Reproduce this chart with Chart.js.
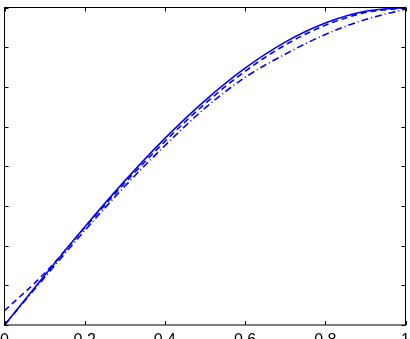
<!DOCTYPE html>
<html>
<head>
<meta charset="utf-8">
<script src="https://cdn.jsdelivr.net/npm/chart.js@4/dist/chart.umd.min.js"></script>
<style>
  html, body { margin: 0; padding: 0; background: #fff; }
</style>
</head>
<body>
<canvas id="curveChart" width="410" height="339"></canvas>
<script>
// values
const xValues = [0, 0.1, 0.2, 0.3, 0.4, 0.5, 0.6, 0.7, 0.8, 0.9, 1];
const solidValues = [0, 0.156, 0.309, 0.454, 0.588, 0.707, 0.809, 0.891, 0.951, 0.988, 1.0];
const dashedValues = [0.045, 0.163, 0.306, 0.447, 0.578, 0.697, 0.799, 0.882, 0.944, 0.984, 0.999];
const dashDotValues = [0, 0.15, 0.297, 0.437, 0.565, 0.683, 0.78, 0.853, 0.915, 0.962, 0.995];
const xTicks = [0, 0.2, 0.4, 0.6, 0.8, 1];
const xTickLabels = ['0', '0.2', '0.4', '0.6', '0.8', '1'];
const yTicks = [0, 0.125, 0.25, 0.375, 0.5, 0.625, 0.75, 0.875, 1];

function toPoints(ys) {
    return xValues.map(function(x, i) { return { x: x, y: ys[i] }; });
}

// box, inward ticks and x labels like the original figure
const boxPlugin = {
    id: 'boxPlugin',
    afterDraw: function(chart) {
        const ctx = chart.ctx;
        const a = chart.chartArea;
        const xs = chart.scales.x;
        const ys = chart.scales.y;
        ctx.save();
        ctx.strokeStyle = '#000';
        ctx.lineWidth = 1;
        ctx.strokeRect(a.left, a.top, a.right - a.left, a.bottom - a.top);
        ctx.beginPath();
        xTicks.forEach(function(v) {
            const px = Math.round(xs.getPixelForValue(v)) + 0.5;
            ctx.moveTo(px, a.bottom); ctx.lineTo(px, a.bottom - 4);
            ctx.moveTo(px, a.top); ctx.lineTo(px, a.top + 4);
        });
        yTicks.forEach(function(v) {
            const py = Math.round(ys.getPixelForValue(v)) + 0.5;
            ctx.moveTo(a.left, py); ctx.lineTo(a.left + 4, py);
            ctx.moveTo(a.right, py); ctx.lineTo(a.right - 4, py);
        });
        ctx.stroke();
        ctx.fillStyle = '#000';
        ctx.font = '16px "Liberation Sans", Arial, sans-serif';
        ctx.textAlign = 'center';
        ctx.textBaseline = 'alphabetic';
        xTicks.forEach(function(v, i) {
            ctx.fillText(xTickLabels[i], xs.getPixelForValue(v), a.bottom + 20);
        });
        ctx.restore();
    }
};

const ctx = document.getElementById('curveChart').getContext('2d');

new Chart(ctx, {
    type: 'line',
    data: {
        datasets: [{
            data: toPoints(solidValues),
            borderColor: '#0000ff',
            borderWidth: 1.6
        }, {
            data: toPoints(dashedValues),
            borderColor: '#0000ff',
            borderWidth: 1.6,
            borderDash: [6, 4]
        }, {
            data: toPoints(dashDotValues),
            borderColor: '#0000ff',
            borderWidth: 1.6,
            borderDash: [7, 3, 1, 3]
        }]
    },
    options: {
        responsive: false,
        animation: false,
        clip: false,
        layout: { padding: { left: 4.5, top: 7.5, right: 4.5, bottom: 14 } },
        elements: {
            point: { radius: 0 },
            line: { cubicInterpolationMode: 'monotone', fill: false }
        },
        plugins: {
            legend: { display: false },
            tooltip: { enabled: false }
        },
        scales: {
            x: { type: 'linear', min: 0, max: 1, display: false },
            y: { type: 'linear', min: 0, max: 1, display: false }
        }
    },
    plugins: [boxPlugin]
});
</script>
</body>
</html>
